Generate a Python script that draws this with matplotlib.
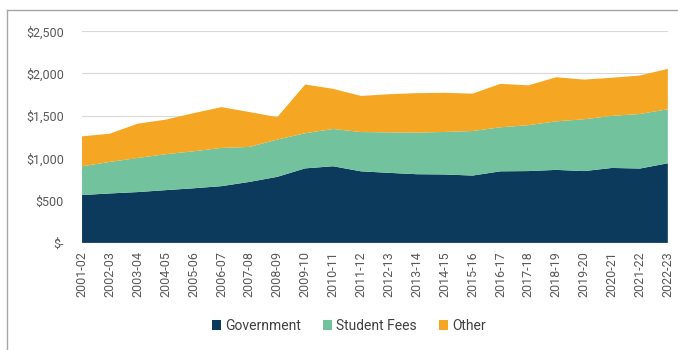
import matplotlib
matplotlib.use("Agg")
import matplotlib.pyplot as plt
from matplotlib.patches import Patch
from matplotlib.lines import Line2D
from matplotlib.ticker import FuncFormatter

years = ["2001-02", "2002-03", "2003-04", "2004-05", "2005-06", "2006-07",
         "2007-08", "2008-09", "2009-10", "2010-11", "2011-12", "2012-13",
         "2013-14", "2014-15", "2015-16", "2016-17", "2017-18", "2018-19",
         "2019-20", "2020-21", "2021-22", "2022-23"]
government = [565, 584, 600, 623, 645, 670, 720, 780, 880, 905, 845, 827,
              811, 808, 795, 845, 848, 862, 848, 885, 878, 940]
student_fees = [340, 372, 403, 424, 437, 451, 413, 440, 415, 440, 464, 478,
                491, 502, 526, 520, 542, 573, 612, 615, 644, 638]
other = [353, 334, 405, 408, 450, 482, 412, 265, 575, 474, 426, 450,
         466, 462, 441, 513, 470, 521, 468, 450, 454, 477]

colors = ["#0b3a5c", "#72c29d", "#f5a623"]
labels = ["Government", "Student Fees", "Other"]

plt.rcParams['font.family'] = ['Roboto', 'DejaVu Sans']

fig = plt.figure(figsize=(6.78, 3.5), dpi=100)
ax = fig.add_axes([0.121, 0.306, 0.864, 0.605])

x = list(range(len(years)))
ax.stackplot(x, government, student_fees, other, colors=colors, linewidth=0)

ax.set_xlim(0, len(years) - 1)
ax.set_ylim(0, 2500)
ax.set_yticks([0, 500, 1000, 1500, 2000, 2500])


def money(v, pos):
    if v == 0:
        return "$-"
    return "${:,.0f}".format(v)


ax.yaxis.set_major_formatter(FuncFormatter(money))
ax.set_xticks(x)
ax.set_xticklabels(years, rotation=90)
ax.tick_params(axis='both', length=0, labelsize=9, labelcolor="#595959")
ax.tick_params(axis='y', pad=13)
ax.tick_params(axis='x', pad=6)
ax.grid(axis='y', color="#d9d9d9", linewidth=0.8)
ax.set_axisbelow(True)
for s in ax.spines.values():
    s.set_visible(False)

handles = [Patch(facecolor=c, edgecolor='none') for c in colors]
fig.legend(handles, labels, loc='center', bbox_to_anchor=(349 / 678, 1 - 326 / 350),
           ncol=3, frameon=False, fontsize=10, handlelength=0.65, handleheight=0.65,
           handletextpad=0.3, columnspacing=1.6, labelcolor="#404040")

# outer frame (top and left edges visible in the screenshot)
fig.add_artist(Line2D([7 / 678, 1], [1 - 10 / 350, 1 - 10 / 350],
                      transform=fig.transFigure, color="#a6a6a6", linewidth=1))
fig.add_artist(Line2D([7 / 678, 7 / 678], [0, 1 - 10 / 350],
                      transform=fig.transFigure, color="#a6a6a6", linewidth=1))

fig.savefig("out.png", dpi=100)
